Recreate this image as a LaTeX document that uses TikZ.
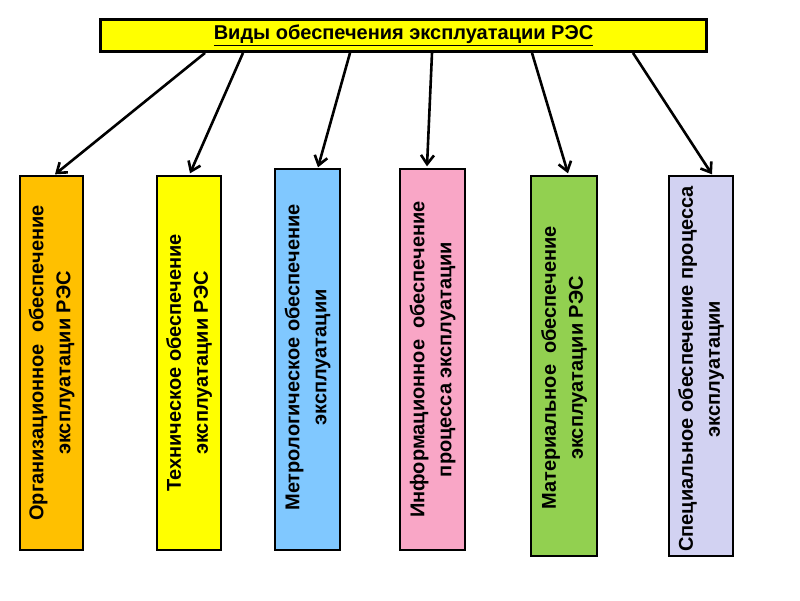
\documentclass[tikz,border=0pt]{standalone}
\usepackage{fontspec}
\setmainfont{Liberation Sans}
\usetikzlibrary{arrows.meta}
\definecolor{corange}{HTML}{FFC000}
\definecolor{cyellow}{HTML}{FFFF00}
\definecolor{cblue}{HTML}{80C8FF}
\definecolor{cpink}{HTML}{F9A6C6}
\definecolor{cgreen}{HTML}{92D050}
\definecolor{clav}{HTML}{D2D2F2}
\tikzset{
  titlebox/.style={draw=black, line width=3.3pt, fill=cyellow, minimum width=605.6pt, minimum height=31.6pt, inner sep=0pt, font=\bfseries\fontsize{20}{24}\selectfont},
  colbox/.style={draw=black, line width=1.3pt, inner sep=0pt},
  coltext/.style={rotate=90, align=center, inner sep=0pt, font=\bfseries\fontsize{20}{27}\selectfont},
  arr/.style={line width=2.6pt, -{Straight Barb[length=9pt,width=13pt,line width=2.6pt]}}
}
\begin{document}
\begin{tikzpicture}[x=1pt,y=1pt]
\useasboundingbox (0,0) rectangle (800,600);
\node[titlebox] (title) at (403.5,564.5) {\underline{Виды обеспечения эксплуатации РЭС}};

\node[colbox, fill=corange, minimum width=63pt, minimum height=374pt] (b1) at (51.5,237) {};
\node[colbox, fill=cyellow, minimum width=64pt, minimum height=374pt] (b2) at (189,237) {};
\node[colbox, fill=cblue, minimum width=65pt, minimum height=381pt] (b3) at (307.5,240.5) {};
\node[colbox, fill=cpink, minimum width=65pt, minimum height=381pt] (b4) at (432.5,240.5) {};
\node[colbox, fill=cgreen, minimum width=66pt, minimum height=380pt] (b5) at (564,234) {};
\node[colbox, fill=clav, minimum width=64pt, minimum height=380pt] (b6) at (701,234) {};

\node[coltext] (t1) at (b1.center) {Организационное\ \ обеспечение\\эксплуатации РЭС};
\node[coltext] (t2) at (b2.center) {Техническое обеспечение\\эксплуатации РЭС};
\node[coltext] (t3) at ([yshift=2pt]b3.center) {Метрологическое обеспечение\\эксплуатации};
\node[coltext] (t4) at (b4.center) {Информационное\ \ обеспечение\\процесса эксплуатации};
\node[coltext] (t5) at ([yshift=-2pt]b5.center) {Материальное\ \ обеспечение\\эксплуатации РЭС};
\node[coltext] (t6) at ([yshift=-3pt]b6.center) {Специальное обеспечение процесса\\эксплуатации};

\draw[arr] ([xshift=-198.5pt]title.south) -- ([xshift=3.5pt,yshift=1pt]b1.north);
\draw[arr] ([xshift=-160.5pt]title.south) -- ([xshift=1pt,yshift=2pt]b2.north);
\draw[arr] ([xshift=-53.5pt]title.south) -- ([xshift=10.5pt,yshift=1pt]b3.north);
\draw[arr] ([xshift=28.5pt]title.south) -- ([xshift=-5.5pt,yshift=2pt]b4.north);
\draw[arr] ([xshift=128.5pt]title.south) -- ([xshift=4pt,yshift=2pt]b5.north);
\draw[arr] ([xshift=229.5pt]title.south) -- ([xshift=11pt,yshift=1pt]b6.north);
\end{tikzpicture}
\end{document}
